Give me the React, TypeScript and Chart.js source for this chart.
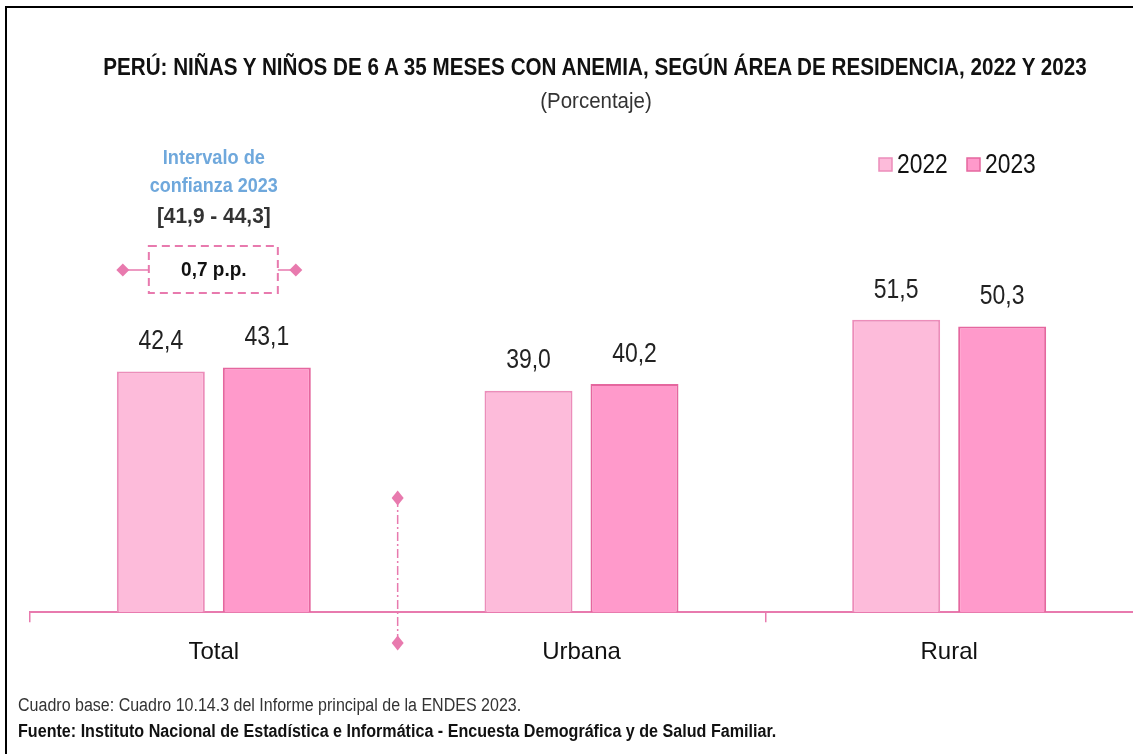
import React, { useEffect, useRef } from "react";
import { Chart, registerables } from "chart.js";

Chart.register(...registerables);

const categories = ["Total", "Urbana", "Rural"];
const seriesLabels = ["2022", "2023"];
const values2022 = [42.4, 39.0, 51.5];
const values2023 = [43.1, 40.2, 50.3];
const intervalTitle = ["Intervalo de", "confianza 2023"];
const intervalRange = "[41,9 - 44,3]";
const intervalDiff = "0,7 p.p.";

const FONT = '"Liberation Sans", Arial, sans-serif';
const PINK_LINE = "#E87AAE";
const FILL_2022 = "#FDBBDA";
const FILL_2023 = "#FF9ACB";
const BORDER_2022 = "#EC8DBA";
const BORDER_2023 = "#E5679F";

function fmt(v: number) {
  return v.toFixed(1).replace(".", ",");
}

function diamond(ctx: CanvasRenderingContext2D, x: number, y: number, w: number, h: number) {
  ctx.beginPath();
  ctx.moveTo(x, y - h / 2);
  ctx.lineTo(x + w / 2, y);
  ctx.lineTo(x, y + h / 2);
  ctx.lineTo(x - w / 2, y);
  ctx.closePath();
  ctx.fill();
}

// draws text horizontally condensed (emulates a narrow typeface)
function narrowText(ctx: CanvasRenderingContext2D, text: string, x: number, y: number, sx: number) {
  ctx.save();
  ctx.translate(x, y);
  ctx.scale(sx, 1);
  ctx.fillText(text, 0, 0);
  ctx.restore();
}

const decorPlugin = {
  id: "decor",
  afterDatasetsDraw(chart: any) {
    const ctx: CanvasRenderingContext2D = chart.ctx;
    const xs = chart.scales.x;
    ctx.save();
    // data labels
    ctx.fillStyle = "#222";
    ctx.font = `28px ${FONT}`;
    ctx.textAlign = "center";
    ctx.textBaseline = "middle";
    chart.data.datasets.forEach((ds: any, di: number) => {
      const meta = chart.getDatasetMeta(di);
      meta.data.forEach((el: any, i: number) => {
        narrowText(ctx, fmt(ds.data[i]), el.x, el.y - 30, 0.82);
      });
    });

    // legend
    const legendX = [879, 967];
    chart.data.datasets.forEach((ds: any, di: number) => {
      const lx = legendX[di];
      ctx.fillStyle = ds.backgroundColor;
      ctx.strokeStyle = ds.borderColor;
      ctx.lineWidth = 1.5;
      ctx.fillRect(lx, 158, 13, 13);
      ctx.strokeRect(lx, 158, 13, 13);
      ctx.fillStyle = "#111";
      ctx.font = `28px ${FONT}`;
      ctx.textAlign = "left";
      ctx.textBaseline = "middle";
      narrowText(ctx, ds.label, lx + 18, 165, 0.815);
    });

    // separator between Total and Urbana
    const sepX = (xs.getPixelForTick(0) + xs.getPixelForTick(1)) / 2;
    ctx.strokeStyle = PINK_LINE;
    ctx.lineWidth = 1.5;
    ctx.setLineDash([9, 3, 2, 3]);
    ctx.beginPath();
    ctx.moveTo(sepX, 498);
    ctx.lineTo(sepX, 643);
    ctx.stroke();
    ctx.setLineDash([]);
    ctx.fillStyle = PINK_LINE;
    diamond(ctx, sepX, 498, 12, 15);
    diamond(ctx, sepX, 643, 12, 15);

    // confidence interval annotation
    const cx = xs.getPixelForTick(0);
    ctx.textAlign = "center";
    ctx.textBaseline = "middle";
    ctx.fillStyle = "#6FA8DC";
    ctx.font = `bold 20px ${FONT}`;
    narrowText(ctx, intervalTitle[0], cx, 158, 0.91);
    narrowText(ctx, intervalTitle[1], cx, 186, 0.9);
    ctx.fillStyle = "#333";
    ctx.font = `bold 22px ${FONT}`;
    narrowText(ctx, intervalRange, cx, 217, 0.95);

    const bx0 = cx - 65, bx1 = cx + 64, by0 = 246, by1 = 293;
    ctx.strokeStyle = PINK_LINE;
    ctx.lineWidth = 2;
    ctx.setLineDash([8, 5]);
    ctx.strokeRect(bx0, by0, bx1 - bx0, by1 - by0);
    ctx.setLineDash([]);
    ctx.lineWidth = 1.5;
    ctx.beginPath();
    ctx.moveTo(cx - 91, 270);
    ctx.lineTo(bx0, 270);
    ctx.moveTo(bx1, 270);
    ctx.lineTo(cx + 82, 270);
    ctx.stroke();
    ctx.fillStyle = PINK_LINE;
    diamond(ctx, cx - 91, 270, 13, 13);
    diamond(ctx, cx + 82, 270, 13, 13);
    ctx.fillStyle = "#111";
    ctx.font = `bold 20px ${FONT}`;
    narrowText(ctx, intervalDiff, cx, 270, 0.95);
    ctx.restore();
  },
};

export default function App() {
  const ref = useRef<HTMLCanvasElement | null>(null);
  useEffect(() => {
    document.body.style.margin = "0";
    if (!ref.current) return;
    const chart = new Chart(ref.current, {
      type: "bar",
      data: {
        labels: categories,
        datasets: [
          {
            label: seriesLabels[0],
            data: values2022,
            backgroundColor: FILL_2022,
            borderColor: BORDER_2022,
            borderWidth: 2,
            categoryPercentage: 0.5766,
            barPercentage: 0.83,
          },
          {
            label: seriesLabels[1],
            data: values2023,
            backgroundColor: FILL_2023,
            borderColor: BORDER_2023,
            borderWidth: 2,
            categoryPercentage: 0.5766,
            barPercentage: 0.83,
          },
        ],
      },
      options: {
        responsive: false,
        animation: false,
        devicePixelRatio: 1,
        layout: { padding: { top: 158, left: 30, right: 0, bottom: 71 } },
        plugins: {
          legend: { display: false },
          tooltip: { enabled: false },
          title: { display: false },
        },
        scales: {
          y: { display: false, min: 0, max: 80 },
          x: {
            grid: {
              display: true,
              drawOnChartArea: false,
              drawTicks: true,
              tickLength: 10,
              lineWidth: 1.5,
              color: (c: any) => (c.index === 0 || c.index === 2 ? PINK_LINE : "rgba(0,0,0,0)"),
            },
            border: { display: true, color: PINK_LINE, width: 2 },
            ticks: {
              color: "#111",
              font: { family: FONT, size: 24 },
              padding: 16,
            },
          },
        },
      },
      plugins: [decorPlugin],
    });
    return () => chart.destroy();
  }, []);

  return (
    <div style={{ position: "relative", width: 1133, height: 754, overflow: "hidden", background: "#fff" }}>
      <canvas ref={ref} width={1133} height={754} style={{ position: "absolute", left: 0, top: 0 }} />
      <div
        style={{
          position: "absolute",
          left: 5,
          top: 6,
          width: 1140,
          height: 760,
          borderTop: "2px solid #000",
          borderLeft: "2px solid #000",
          pointerEvents: "none",
        }}
      />
      <div
        style={{
          position: "absolute",
          left: 0,
          width: 1190,
          top: 52,
          textAlign: "center",
          fontFamily: FONT,
          fontWeight: "bold",
          fontSize: 24.5,
          color: "#111",
          lineHeight: "30px",
          whiteSpace: "nowrap",
          transform: "scaleX(0.843)",
          transformOrigin: "595px 50%",
        }}
      >
        PERÚ: NIÑAS Y NIÑOS DE 6 A 35 MESES CON ANEMIA, SEGÚN ÁREA DE RESIDENCIA, 2022 Y 2023
      </div>
      <div
        style={{
          position: "absolute",
          left: 0,
          width: 1192,
          top: 87,
          textAlign: "center",
          fontFamily: FONT,
          fontSize: 22,
          color: "#333",
          lineHeight: "28px",
          transform: "scaleX(0.93)",
          transformOrigin: "596px 50%",
        }}
      >
        (Porcentaje)
      </div>
      <div
        style={{
          position: "absolute",
          left: 18,
          top: 693,
          fontFamily: FONT,
          fontSize: 18,
          color: "#333",
          lineHeight: "24px",
          whiteSpace: "nowrap",
          transform: "scaleX(0.89)",
          transformOrigin: "0 50%",
        }}
      >
        Cuadro base: Cuadro 10.14.3 del Informe principal de la ENDES 2023.
      </div>
      <div
        style={{
          position: "absolute",
          left: 18,
          top: 719,
          fontFamily: FONT,
          fontSize: 18,
          fontWeight: "bold",
          color: "#111",
          lineHeight: "24px",
          whiteSpace: "nowrap",
          transform: "scaleX(0.895)",
          transformOrigin: "0 50%",
        }}
      >
        Fuente: Instituto Nacional de Estadística e Informática - Encuesta Demográfica y de Salud Familiar.
      </div>
    </div>
  );
}
